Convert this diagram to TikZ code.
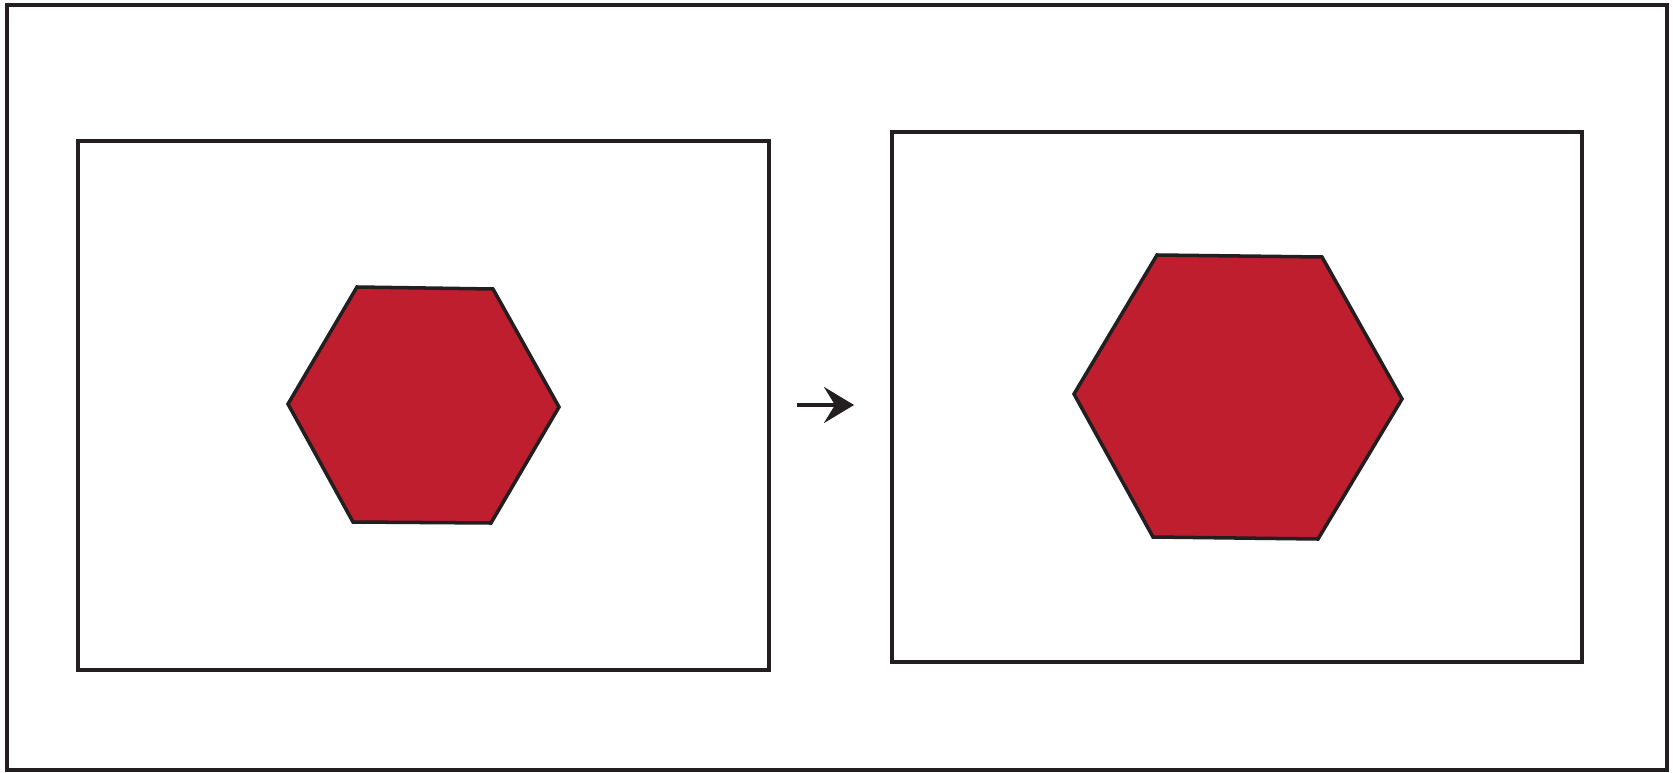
\documentclass[tikz,border=0pt]{standalone}
\usetikzlibrary{arrows.meta}
\definecolor{hexred}{RGB}{190,30,45}
\definecolor{inkblack}{RGB}{35,31,32}
\begin{document}
\begin{tikzpicture}[
    x=0.01cm, y=-0.01cm,
    frame/.style={draw=inkblack, line width=1pt},
    hexa/.style={draw=inkblack, line width=1pt, fill=hexred, line join=miter},
    arrow/.style={-{Stealth[length=3mm, width=3.6mm, inset=1.1mm]}, draw=inkblack, line width=1pt}
]
    \useasboundingbox (0,0) rectangle (1673,773);

    % Outer frame
    \draw[frame] (7,5) rectangle (1667,770);

    % Before (left side)
    \draw[frame] (78,141) rectangle (769,670);
    \draw[hexa] (357,287) -- (493,289) -- (559,407) -- (491,523) -- (353,522) -- (288,404) -- cycle;

    % After (right side)
    \draw[frame] (892,132) rectangle (1582,662);
    \draw[hexa] (1157,255) -- (1322,257) -- (1402,399) -- (1318,539) -- (1153,537) -- (1074,394) -- cycle;

    % Scaling arrow
    \coordinate (from) at (797,405);
    \coordinate (to) at (854,405);
    \draw[arrow] (from) -- (to);
\end{tikzpicture}
\end{document}
